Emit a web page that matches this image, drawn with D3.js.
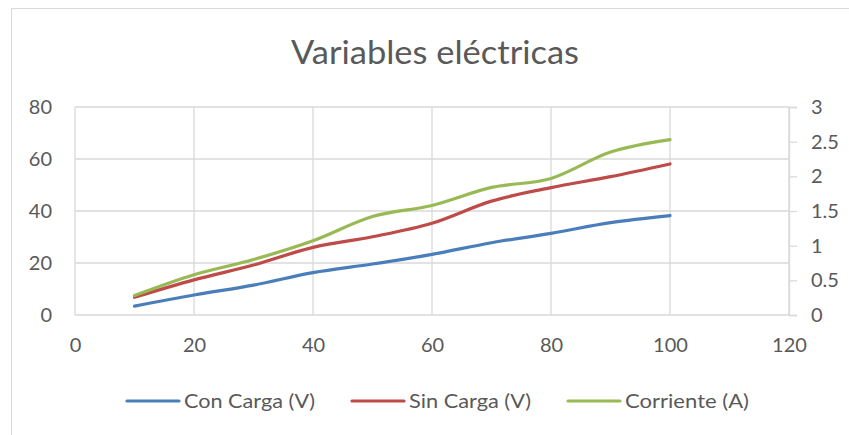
<!DOCTYPE html>
<html>
<head>
<meta charset="utf-8">
<script src="https://cdn.jsdelivr.net/npm/d3@7"></script>
<style>
  html, body { margin: 0; padding: 0; background: #fff; }
  svg { display: block; }
  text { font-family: Lato, "Open Sans", sans-serif; fill: #595959; }
</style>
</head>
<body>
<svg id="chart" width="849" height="435"></svg>
<script>
// Measurements: load level on the x axis
const xValues = [10, 20, 30, 40, 50, 60, 70, 80, 90, 100];
const conCarga = [3.4, 7.7, 11.5, 16.3, 19.6, 23.3, 27.8, 31.4, 35.5, 38.2];
const sinCarga = [6.8, 13.5, 19.2, 26.0, 30.1, 35.3, 43.8, 49.0, 53.2, 58.1];
const corriente = [0.28, 0.58, 0.80, 1.07, 1.42, 1.58, 1.84, 1.97, 2.35, 2.53];

const xTicks = [0, 20, 40, 60, 80, 100, 120];
const yLeftTicks = [0, 20, 40, 60, 80];
const yRightTicks = [0, 0.5, 1, 1.5, 2, 2.5, 3];

const seriesNames = ["Con Carga (V)", "Sin Carga (V)", "Corriente (A)"];
const seriesColors = ["#4a7ebb", "#be4b48", "#98b954"];

const svg = d3.select("#chart");
const plot = { left: 75, right: 789, top: 107, bottom: 315 };

const x = d3.scaleLinear().domain([0, 120]).range([plot.left, plot.right]);
const yL = d3.scaleLinear().domain([0, 80]).range([plot.bottom, plot.top]);
const yR = d3.scaleLinear().domain([0, 3]).range([plot.bottom, plot.top]);

// chart area border
svg.append("rect")
  .attr("x", 11.5).attr("y", 8.5)
  .attr("width", 860).attr("height", 450)
  .attr("fill", "#fff").attr("stroke", "#d9d9d9").attr("stroke-width", 1);

// title
svg.append("text")
  .attr("x", 435).attr("y", 64)
  .attr("text-anchor", "middle")
  .attr("textLength", 288)
  .attr("lengthAdjust", "spacingAndGlyphs")
  .style("font-size", "32px")
  .text("Variables eléctricas");

const grid = svg.append("g").attr("stroke", "#d9d9d9").attr("stroke-width", 1.3);

// horizontal gridlines (left axis)
grid.selectAll("line.h").data(yLeftTicks).join("line")
  .attr("x1", plot.left).attr("x2", plot.right)
  .attr("y1", d => yL(d)).attr("y2", d => yL(d));

// vertical gridlines
grid.selectAll("line.v").data(xTicks).join("line")
  .attr("x1", d => x(d)).attr("x2", d => x(d))
  .attr("y1", plot.top).attr("y2", plot.bottom);

// left axis labels
const axL = svg.append("g")
  .attr("transform", `translate(${plot.left - 23},0)`)
  .call(d3.axisLeft(yL).tickValues(yLeftTicks).tickSize(0).tickPadding(0));
axL.select(".domain").remove();

// right axis with outer ticks
const axR = svg.append("g")
  .attr("transform", `translate(${plot.right},0)`)
  .call(d3.axisRight(yR).tickValues(yRightTicks).tickSize(8).tickPadding(14)
    .tickFormat(d3.format("")));
axR.select(".domain").attr("stroke", "#d9d9d9").attr("stroke-width", 1.3);
axR.selectAll(".tick line").attr("stroke", "#d9d9d9").attr("stroke-width", 1.3);

// bottom axis labels
const axB = svg.append("g")
  .attr("transform", `translate(0,${plot.bottom})`)
  .call(d3.axisBottom(x).tickValues(xTicks).tickSize(0).tickPadding(23));
axB.select(".domain").remove();

[axL, axR, axB].forEach(g => {
  g.selectAll("text")
    .style("font-family", "Lato, 'Open Sans', sans-serif")
    .style("font-size", "20px")
    .attr("fill", "#595959");
});

// smoothed series lines
const lineL = d3.line().x((d, i) => x(xValues[i])).y(d => yL(d)).curve(d3.curveCatmullRom.alpha(0));
const lineR = d3.line().x((d, i) => x(xValues[i])).y(d => yR(d)).curve(d3.curveCatmullRom.alpha(0));

const paths = [
  { data: conCarga, gen: lineL },
  { data: sinCarga, gen: lineL },
  { data: corriente, gen: lineR }
];
paths.forEach((p, i) => {
  svg.append("path")
    .attr("d", p.gen(p.data))
    .attr("fill", "none")
    .attr("stroke", seriesColors[i])
    .attr("stroke-width", 3.2)
    .attr("stroke-linecap", "round")
    .attr("stroke-linejoin", "round");
});

// legend
const legendX = [127, 352, 568];
const legendTextWidth = [131, 122, 124];
const leg = svg.append("g");
seriesNames.forEach((name, i) => {
  const g = leg.append("g").attr("transform", `translate(${legendX[i]},401)`);
  g.append("line")
    .attr("x1", 0).attr("x2", 52).attr("y1", 0).attr("y2", 0)
    .attr("stroke", seriesColors[i]).attr("stroke-width", 3.2)
    .attr("stroke-linecap", "round");
  g.append("text")
    .attr("x", 57).attr("y", 0).attr("dy", "0.35em")
    .attr("textLength", legendTextWidth[i])
    .attr("lengthAdjust", "spacingAndGlyphs")
    .style("font-size", "20px")
    .text(name);
});
</script>
</body>
</html>
